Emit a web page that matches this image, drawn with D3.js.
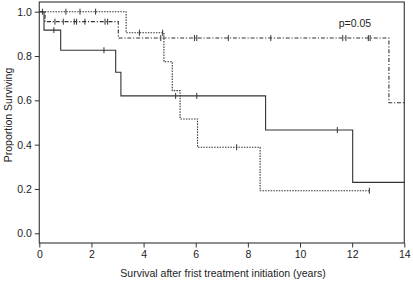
<!DOCTYPE html>
<html>
  <head>
    <meta charset="UTF-8" />
    <script src="https://cdnjs.cloudflare.com/ajax/libs/d3/7.8.5/d3.min.js"></script>
    <style>
      body { margin: 0; background: #fff; }
      text { font-family: "Liberation Sans", Arial, sans-serif; fill: #222; }
      .axis text { font-size: 10.5px; }
      .axis line { stroke: #333; }
      path.curve { fill: none; stroke: #333; stroke-width: 1.1; }
      path.dotted { stroke-dasharray: 1.5 1.2; }
      path.dashdot { stroke-dasharray: 4 1.8 1.2 1.8; }
      line.censor { stroke: #333; stroke-width: 1; }
      rect.frame { fill: none; stroke: #444; stroke-width: 1.2; }
    </style>
  </head>
  <body>
    <svg id="chart" width="413" height="281"></svg>
    <script>
      // step curves: time of each step, survival after that step, end of follow-up
      var solidTimes = [0, 0.18, 0.82, 2.93, 3.13, 8.68, 12.02];
      var solidSurv = [1.0, 0.917, 0.826, 0.727, 0.62, 0.466, 0.23];
      var solidEnd = 14;
      var solidCensor = [0.56, 2.48, 5.23, 6.04, 11.43];

      var dottedTimes = [0, 3.33, 4.78, 5.1, 5.4, 6.07, 8.47];
      var dottedSurv = [1.0, 0.905, 0.774, 0.644, 0.516, 0.388, 0.192];
      var dottedEnd = 12.66;
      var dottedCensor = [0.12, 1.02, 1.56, 2.16, 3.84, 4.73, 7.57, 12.66];

      var dashTimes = [0, 0.22, 3.03, 13.41];
      var dashSurv = [1.0, 0.955, 0.881, 0.589];
      var dashEnd = 14;
      var dashCensor = [0.6, 0.92, 1.34, 1.43, 1.75, 2.52, 2.62, 4.66, 5.95, 6.04,
                        7.25, 8.88, 11.64, 11.76, 12.62, 12.69];

      var xTicks = [0, 2, 4, 6, 8, 10, 12, 14];
      var yTicks = [0.0, 0.2, 0.4, 0.6, 0.8, 1.0];

      var svg = d3.select("#chart");
      var mLeft = 39.3, mRight = 404.3, mTop = 2, mBottom = 243;

      var x = d3.scaleLinear().domain([0, 14]).range([mLeft, mRight]);
      var y = d3.scaleLinear().domain([0, 1]).range([233.3, 11.7]);

      svg.append("rect")
        .attr("class", "frame")
        .attr("x", mLeft).attr("y", mTop)
        .attr("width", mRight - mLeft).attr("height", mBottom - mTop);

      svg.append("g")
        .attr("class", "axis")
        .attr("transform", "translate(0," + mBottom + ")")
        .call(d3.axisBottom(x).tickValues(xTicks).tickSize(4.5).tickPadding(3).tickFormat(d3.format("d")))
        .call(g => g.select(".domain").remove());

      svg.append("g")
        .attr("class", "axis")
        .attr("transform", "translate(" + mLeft + ",0)")
        .call(d3.axisLeft(y).tickValues(yTicks).tickSize(4.5).tickPadding(3).tickFormat(d3.format(".1f")))
        .call(g => g.select(".domain").remove());

      function stepData(times, surv, end) {
        var pts = times.map((t, i) => [t, surv[i]]);
        pts.push([end, surv[surv.length - 1]]);
        return pts;
      }

      function survAt(times, surv, t) {
        var v = surv[0];
        times.forEach((tt, i) => { if (tt <= t) v = surv[i]; });
        return v;
      }

      var line = d3.line().x(d => x(d[0])).y(d => y(d[1])).curve(d3.curveStepAfter);

      var curves = [
        { cls: "solid", times: solidTimes, surv: solidSurv, end: solidEnd, censor: solidCensor },
        { cls: "dotted", times: dottedTimes, surv: dottedSurv, end: dottedEnd, censor: dottedCensor },
        { cls: "dashdot", times: dashTimes, surv: dashSurv, end: dashEnd, censor: dashCensor }
      ];

      curves.forEach(c => {
        svg.append("path")
          .datum(stepData(c.times, c.surv, c.end))
          .attr("class", "curve " + c.cls)
          .attr("d", line);

        svg.selectAll(null)
          .data(c.censor)
          .enter()
          .append("line")
          .attr("class", "censor")
          .attr("x1", d => x(d)).attr("x2", d => x(d))
          .attr("y1", d => y(survAt(c.times, c.surv, d)) - 3)
          .attr("y2", d => y(survAt(c.times, c.surv, d)) + 3);
      });

      svg.append("text")
        .attr("x", 355).attr("y", 27)
        .attr("text-anchor", "middle")
        .style("font-size", "10.5px")
        .text("p=0.05");

      svg.append("text")
        .attr("x", 223).attr("y", 277)
        .attr("text-anchor", "middle")
        .style("font-size", "10.5px")
        .text("Survival after frist treatment initiation (years)");

      svg.append("text")
        .attr("transform", "translate(11.5,115) rotate(-90)")
        .attr("text-anchor", "middle")
        .style("font-size", "10.5px")
        .text("Proportion Surviving");
    </script>
  </body>
</html>
